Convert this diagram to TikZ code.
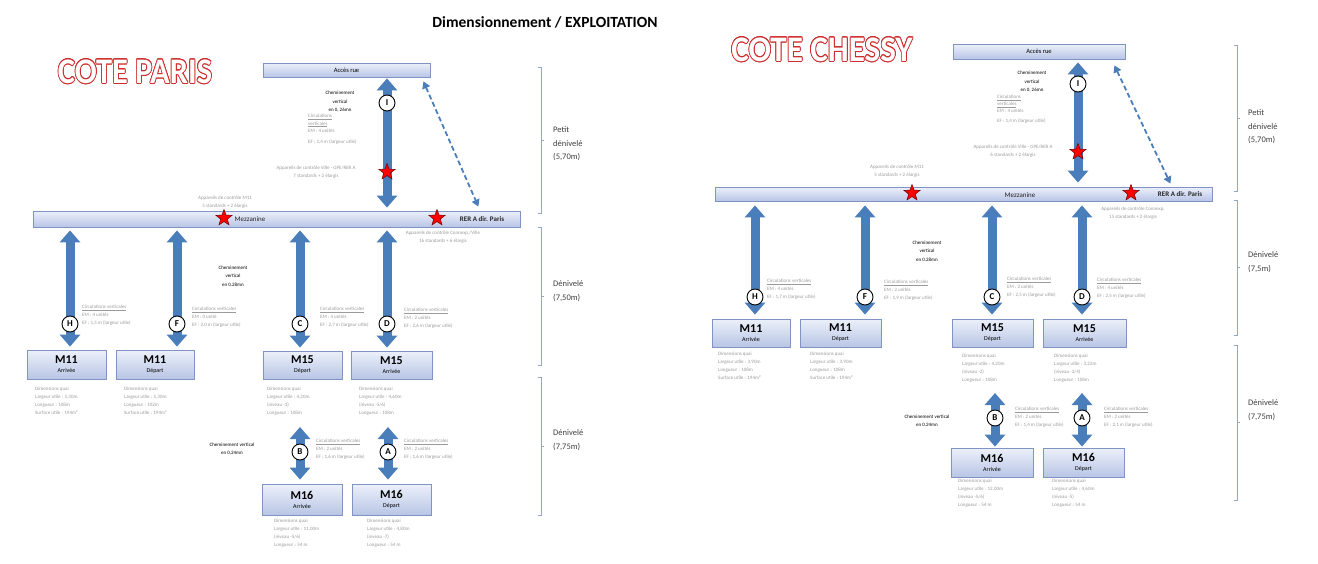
\documentclass[tikz,border=0pt]{standalone}
\usepackage{fontspec}
\setmainfont{Carlito}
\usepackage{contour}
\usetikzlibrary{arrows.meta,shapes.geometric}
\definecolor{boxtop}{RGB}{236,240,250}
\definecolor{boxbot}{RGB}{184,197,229}
\definecolor{boxline}{RGB}{128,148,196}
\definecolor{arrowblue}{RGB}{74,126,187}
\definecolor{grayt}{RGB}{155,155,155}
\definecolor{brk}{RGB}{150,165,200}
\definecolor{titlered}{RGB}{205,45,45}
\pgfdeclarelayer{bg}
\pgfsetlayers{bg,main}
\newcommand\boxsub[1]{{\mdseries\fontsize{6}{6}\selectfont #1}}
\newcommand\circinfo[2]{\underline{Circulations verticales}\\EM : #1\\EF : #2 m (largeur utile)}
\newcommand\dimsinfo[3]{Dimensions quai\\Largeur utile : #1\\#2\\#3}
\newcommand\levbracket[3]{%
  \draw[bracket] (#1-3,#2) -- (#1,#2) -- (#1,#3) -- (#1-3,#3);
  \draw[bracket] (#1,{(#2+#3)/2}) -- (#1+3,{(#2+#3)/2});}
\tikzset{
  platbox/.style={draw=boxline, line width=0.8pt, top color=boxtop, bottom color=boxbot,
    inner sep=0pt, align=center, font=\fontsize{12}{11}\selectfont\bfseries},
  bartext/.style={inner sep=0pt, text=black!85, font=\fontsize{7}{8}\selectfont},
  bigarrow/.style={draw=arrowblue, line width=9pt,
    {Triangle[width=20pt,length=12pt]}-{Triangle[width=20pt,length=12pt]}},
  dasharrow/.style={draw=arrowblue, line width=1.8pt, dash pattern=on 5pt off 3pt,
    {Triangle[width=8pt,length=7pt]}-{Triangle[width=8pt,length=7pt]}},
  letter/.style={circle, draw=black, line width=0.9pt, fill=white, minimum size=16pt,
    inner sep=0pt, font=\fontsize{9}{9}\selectfont\bfseries},
  redstar/.style={star, star points=5, star point ratio=2.4, fill=red,
    draw=red!45!black, line width=0.5pt, minimum size=17pt, inner sep=0pt},
  graytxt/.style={text=grayt, align=left, anchor=north west, inner sep=0pt,
    font=\fontsize{5}{8}\selectfont},
  graycen/.style={text=grayt, align=center, inner sep=0pt, font=\fontsize{5}{8}\selectfont},
  chem/.style={text=black, align=center, inner sep=0pt, font=\fontsize{5}{8.5}\selectfont},
  bracket/.style={draw=brk, line width=0.8pt},
  levlabel/.style={text=black!75, align=left, anchor=west, inner sep=0pt,
    font=\fontsize{8.5}{13.5}\selectfont},
  bigtitle/.style={inner sep=0pt, font=\fontsize{36}{36}\selectfont\bfseries},
}
\contourlength{0.8pt}
\begin{document}
\begin{tikzpicture}[x=1pt,y=-1pt]
\useasboundingbox (0,0) rectangle (1318,563);
\begin{pgfonlayer}{bg}
\fill[white] (0,0) rectangle (1318,563);
\end{pgfonlayer}

% ---------- titles ----------
\node[inner sep=0pt, font=\fontsize{15.5}{16}\selectfont\bfseries] (title) at (545,22) {Dimensionnement / EXPLOITATION};
\node[bigtitle, xscale=0.9] (coteP) at (135,72) {\contour{titlered}{\textcolor{white}{COTE PARIS}}};
\node[bigtitle, xscale=0.92] (coteC) at (822,50) {\contour{titlered}{\textcolor{white}{COTE CHESSY}}};

% ================= COTE PARIS =================
\node[platbox, minimum width=167pt, minimum height=14pt, font=\fontsize{6.5}{7}\selectfont] (accesP) at (346.5,70) {Accès rue};
\node[platbox, minimum width=487pt, minimum height=16pt] (mezzP) at (276.5,219) {};
\node[bartext] (mezzPt) at (250,219.5) {Mezzanine};
\node[bartext, font=\fontsize{7}{8}\selectfont\bfseries] (rerP) at (482,219.5) {RER A dir. Paris};

\node[platbox, minimum width=79pt, minimum height=29pt] (m11aP) at (66.5,364.5) {M11\\[-2pt]\boxsub{Arrivée}};
\node[platbox, minimum width=78pt, minimum height=29pt] (m11dP) at (155,364.5) {M11\\[-2pt]\boxsub{Départ}};
\node[platbox, minimum width=79pt, minimum height=28pt] (m15dP) at (302.5,365) {M15\\[-2pt]\boxsub{Départ}};
\node[platbox, minimum width=81pt, minimum height=28pt] (m15aP) at (391.5,365) {M15\\[-2pt]\boxsub{Arrivée}};
\node[platbox, minimum width=80pt, minimum height=31pt] (m16aP) at (302,499.5) {M16\\[-2pt]\boxsub{Arrivée}};
\node[platbox, minimum width=79pt, minimum height=31pt] (m16dP) at (391.5,499.5) {M16\\[-2pt]\boxsub{Départ}};

\node[letter] (iP) at (387,103) {I};
\node[letter] (hP) at (70,324) {H};
\node[letter] (fP) at (177,324) {F};
\node[letter] (cP) at (300,324) {C};
\node[letter] (dP) at (387,324) {D};
\node[letter] (bP) at (300,452) {B};
\node[letter] (aP) at (388,452) {A};
\coordinate (bTopP) at (300,427);
\coordinate (aTopP) at (388,427);

\begin{pgfonlayer}{bg}
\draw[bigarrow, shorten <=1pt, shorten >=3pt] (accesP.south -| iP) -- (mezzP.north -| iP);
\draw[bigarrow, shorten <=3pt, shorten >=3pt] (mezzP.south -| hP) -- (m11aP.north -| hP);
\draw[bigarrow, shorten <=3pt, shorten >=3pt] (mezzP.south -| fP) -- (m11dP.north -| fP);
\draw[bigarrow, shorten <=3pt, shorten >=3pt] (mezzP.south -| cP) -- (m15dP.north -| cP);
\draw[bigarrow, shorten <=3pt, shorten >=3pt] (mezzP.south -| dP) -- (m15aP.north -| dP);
\draw[bigarrow, shorten >=4pt] (bTopP) -- (m16aP.north -| bTopP);
\draw[bigarrow, shorten >=4pt] (aTopP) -- (m16dP.north -| aTopP);
\end{pgfonlayer}
\draw[dasharrow] ([xshift=-7pt,yshift=-4pt]accesP.south east) -- ([xshift=-42pt,yshift=4pt]mezzP.north east);

\node[redstar] (s1P) at (387,172) {};
\node[redstar] (s2P) at (224,218) {};
\node[redstar] (s3P) at (437,218) {};

\node[chem] (cheIP) at (340,102) {Cheminement\\vertical\\en 0, 26mn};
\node[graytxt, font=\fontsize{5}{7.5}\selectfont] (circIP) at (308,114) {\underline{Circulations}\\\underline{verticales}\\EM : 4 unités\\[3pt]EF : 1,4 m (largeur utile)};
\node[graycen] (appIP) at (316,172) {Appareils de contrôle Ville - GPE/RER A\\7 standards + 2 élargis};
\node[graycen] (appMP) at (225,202) {Appareils de contrôle M11\\5 standards + 2 élargis};
\node[graycen] (appCP) at (443,237) {Appareils de contrôle Connexp./Ville\\16 standards + 6 élargis};
\node[chem] (che28P) at (233,276) {Cheminement\\vertical\\en 0.28mn};
\node[chem] (che24P) at (232,449) {Cheminement vertical\\en 0.24mn};

\node[graytxt] (circHP) at (82,305) {\circinfo{4 unités}{1,5}};
\node[graytxt] (circFP) at (192,307) {\circinfo{0 unité}{2,0}};
\node[graytxt] (circCP) at (320,307) {\circinfo{4 unités}{2,7}};
\node[graytxt] (circDP) at (404,308) {\circinfo{2 unités}{2,6}};
\node[graytxt] (circBP) at (316,439) {\circinfo{2 unités}{1,6}};
\node[graytxt] (circAP) at (404,439) {\circinfo{2 unités}{1,6}};

\node[graytxt] (dimM11aP) at (35,387) {Dimensions quai\\Largeur utile : 5,30m\\Longueur : 108m\\Surface utile : 194m²};
\node[graytxt] (dimM11dP) at (124,387) {Dimensions quai\\Largeur utile : 5,30m\\Longueur : 102m\\Surface utile : 194m²};
\node[graytxt] (dimM15dP) at (267,387) {\dimsinfo{4,20m}{(niveau -3)}{Longueur : 108m}};
\node[graytxt] (dimM15aP) at (359,387) {\dimsinfo{4,60m}{(niveau -5/6)}{Longueur : 108m}};
\node[graytxt] (dimM16aP) at (274,519) {\dimsinfo{11,00m}{(niveau -5/6)}{Longueur : 54 m}};
\node[graytxt] (dimM16dP) at (367,519) {\dimsinfo{4,80m}{(niveau -7)}{Longueur : 54 m}};

\levbracket{541}{67}{213}
\levbracket{541}{227}{365}
\levbracket{541}{377}{515}
\node[levlabel] (lev1P) at (553,144) {Petit\\dénivelé\\(5,70m)};
\node[levlabel] (lev2P) at (553,291) {Dénivelé\\(7,50m)};
\node[levlabel] (lev3P) at (553,440) {Dénivelé\\(7,75m)};

% ================= COTE CHESSY =================
\node[platbox, minimum width=172pt, minimum height=15pt, font=\fontsize{6.5}{7}\selectfont] (accesC) at (1039,51.5) {Accès rue};
\node[platbox, minimum width=497pt, minimum height=14pt] (mezzC) at (963.5,194) {};
\node[bartext] (mezzCt) at (1020,195) {Mezzanine};
\node[bartext, font=\fontsize{7}{8}\selectfont\bfseries] (rerC) at (1180,194.5) {RER A dir. Paris};

\node[platbox, minimum width=78pt, minimum height=28pt] (m11aC) at (751,333) {M11\\[-2pt]\boxsub{Arrivée}};
\node[platbox, minimum width=81pt, minimum height=28pt] (m11dC) at (840.5,333) {M11\\[-2pt]\boxsub{Départ}};
\node[platbox, minimum width=81pt, minimum height=28pt] (m15dC) at (992.5,333) {M15\\[-2pt]\boxsub{Départ}};
\node[platbox, minimum width=83pt, minimum height=28pt] (m15aC) at (1084.5,333) {M15\\[-2pt]\boxsub{Arrivée}};
\node[platbox, minimum width=82pt, minimum height=29pt] (m16aC) at (992,462.5) {M16\\[-2pt]\boxsub{Arrivée}};
\node[platbox, minimum width=81pt, minimum height=29pt] (m16dC) at (1083.5,462.5) {M16\\[-2pt]\boxsub{Départ}};

\node[letter] (iC) at (1078,84) {I};
\node[letter] (hC) at (755,297) {H};
\node[letter] (fC) at (865,297) {F};
\node[letter] (cC) at (992,297) {C};
\node[letter] (dC) at (1082,297) {D};
\node[letter] (bC) at (995,418) {B};
\node[letter] (aC) at (1082,418) {A};
\coordinate (bTopC) at (995,393);
\coordinate (aTopC) at (1082,393);

\begin{pgfonlayer}{bg}
\draw[bigarrow, shorten <=3pt, shorten >=4pt] (accesC.south -| iC) -- (mezzC.north -| iC);
\draw[bigarrow, shorten <=4pt, shorten >=4pt] (mezzC.south -| hC) -- (m11aC.north -| hC);
\draw[bigarrow, shorten <=4pt, shorten >=4pt] (mezzC.south -| fC) -- (m11dC.north -| fC);
\draw[bigarrow, shorten <=4pt, shorten >=4pt] (mezzC.south -| cC) -- (m15dC.north -| cC);
\draw[bigarrow, shorten <=4pt, shorten >=4pt] (mezzC.south -| dC) -- (m15aC.north -| dC);
\draw[bigarrow, shorten >=1pt] (bTopC) -- (m16aC.north -| bTopC);
\draw[bigarrow, shorten >=1pt] (aTopC) -- (m16dC.north -| aTopC);
\end{pgfonlayer}
\draw[dasharrow] ([xshift=-11pt,yshift=-6pt]accesC.south east) -- ([xshift=-42pt,yshift=3pt]mezzC.north east);

\node[redstar] (s1C) at (1078,152) {};
\node[redstar] (s2C) at (912,193) {};
\node[redstar] (s3C) at (1131,193) {};

\node[chem] (cheIC) at (1032,82) {Cheminement\\vertical\\en 0, 26mn};
\node[graytxt, font=\fontsize{5}{7}\selectfont] (circIC) at (997,95) {\underline{Circulations}\\\underline{verticales}\\EM : 4 unités\\[3pt]EF : 1,4 m (largeur utile)};
\node[graycen] (appIC) at (1013,151) {Appareils de contrôle Ville - GPE/RER A\\6 standards + 2 élargis};
\node[graycen] (appMC) at (897,171) {Appareils de contrôle M11\\5 standards + 2 élargis};
\node[graycen] (appCC) at (1133,213) {Appareils de contrôle Connexp.\\15 standards + 2 élargis};
\node[chem] (che28C) at (927,251) {Cheminement\\vertical\\en 0.28mn};
\node[chem] (che24C) at (927,421) {Cheminement vertical\\en 0.24mn};

\node[graytxt] (circHC) at (767,279) {\circinfo{4 unités}{1,7}};
\node[graytxt] (circFC) at (884,280) {\circinfo{2 unités}{1,9}};
\node[graytxt] (circCC) at (1007,277) {\circinfo{2 unités}{2,5}};
\node[graytxt] (circDC) at (1097,278) {\circinfo{4 unités}{2,5}};
\node[graytxt] (circBC) at (1015,407) {\circinfo{2 unités}{1,4}};
\node[graytxt] (circAC) at (1104,407) {\circinfo{2 unités}{2,1}};

\node[graytxt] (dimM11aC) at (718,352) {Dimensions quai\\Largeur utile : 3,90m\\Longueur : 108m\\Surface utile : 194m²};
\node[graytxt] (dimM11dC) at (810,352) {Dimensions quai\\Largeur utile : 3,90m\\Longueur : 108m\\Surface utile : 194m²};
\node[graytxt] (dimM15dC) at (962,354) {\dimsinfo{4,20m}{(niveau -2)}{Longueur : 108m}};
\node[graytxt] (dimM15aC) at (1054,354) {\dimsinfo{3,22m}{(niveau -3/4)}{Longueur : 108m}};
\node[graytxt] (dimM16aC) at (958,479) {\dimsinfo{12,00m}{(niveau -5/6)}{Longueur : 54 m}};
\node[graytxt] (dimM16dC) at (1052,479) {\dimsinfo{4,60m}{(niveau -5)}{Longueur : 54 m}};

\levbracket{1237}{45}{191}
\levbracket{1237}{200}{335}
\levbracket{1237}{345}{500}
\node[levlabel] (lev1C) at (1248,127) {Petit\\dénivelé\\(5,70m)};
\node[levlabel] (lev2C) at (1248,262) {Dénivelé\\(7,5m)};
\node[levlabel] (lev3C) at (1248,410) {Dénivelé\\(7,75m)};
\end{tikzpicture}
\end{document}
